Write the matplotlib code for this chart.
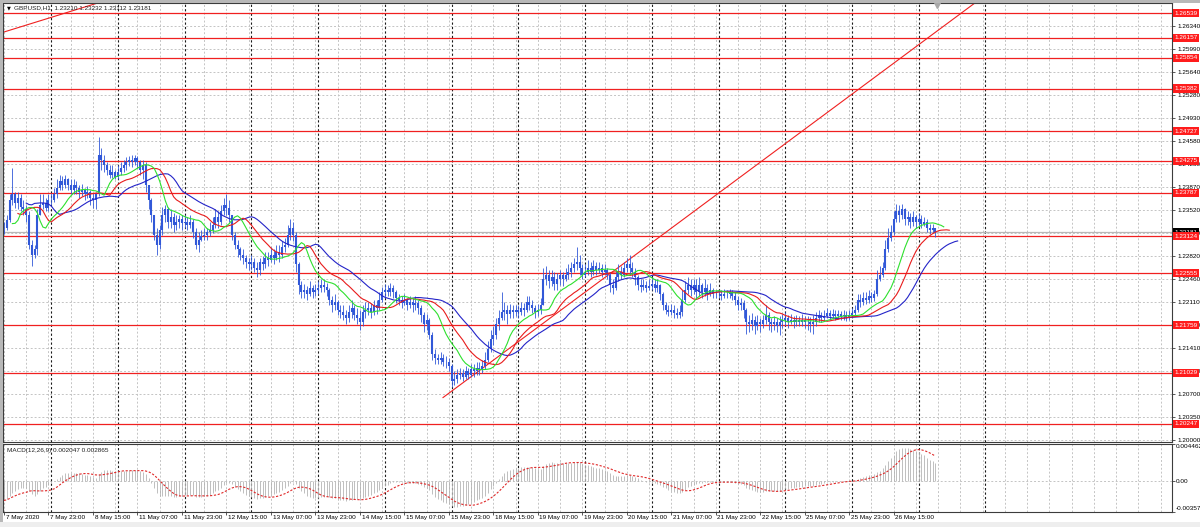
import numpy as np
import pandas as pd
import matplotlib
matplotlib.use('Agg')
import matplotlib.pyplot as plt
import matplotlib.transforms as mtransforms
from matplotlib.patches import Rectangle

plt.rcParams['font.family'] = ['Liberation Sans', 'DejaVu Sans']

# Header texts
symbol = 'GBPUSD,H1'
ohlc_text = '1.23210 1.23232 1.23112 1.23181'
macd_text = 'MACD(12,26,9) 0.002047 0.002865'

# H1 bars from 7 May 07:00 to 27 May 06:00, weekdays only
times = pd.date_range('2020-05-07 07:00', '2020-05-27 06:00', freq='h')
times = times[times.dayofweek < 5]

close = [
    # 7 May
    1.2325, 1.2337, 1.2368, 1.2376, 1.2363, 1.2371, 1.2357, 1.2353, 1.2345, 1.2299, 1.2284, 1.2292, 1.2345, 1.2360, 1.2363, 1.2356, 1.2368,
    # 8 May
    1.2368, 1.2376, 1.2386, 1.2396, 1.2391, 1.2399, 1.2391, 1.2383, 1.2391, 1.2386, 1.2380, 1.2383, 1.2376, 1.2380, 1.2371, 1.2368, 1.2376, 1.2437, 1.2429, 1.2421, 1.2414, 1.2406, 1.2411, 1.2403,
    # 11 May
    1.2411, 1.2417, 1.2421, 1.2426, 1.2429, 1.2426, 1.2432, 1.2425, 1.2414, 1.2421, 1.2391, 1.2368, 1.2345, 1.2314, 1.2299, 1.2322, 1.2345, 1.2353, 1.2334, 1.2341, 1.2330, 1.2334, 1.2338, 1.2333,
    # 12 May
    1.2334, 1.2330, 1.2334, 1.2319, 1.2299, 1.2307, 1.2313, 1.2314, 1.2319, 1.2322, 1.2330, 1.2341, 1.2334, 1.2350, 1.2360, 1.2356, 1.2345, 1.2314, 1.2299, 1.2292, 1.2284, 1.2279, 1.2273, 1.2269,
    # 13 May
    1.2273, 1.2264, 1.2261, 1.2273, 1.2269, 1.2279, 1.2276, 1.2284, 1.2279, 1.2288, 1.2284, 1.2295, 1.2299, 1.2314, 1.2325, 1.2314, 1.2269, 1.2238, 1.2227, 1.2230, 1.2224, 1.2233, 1.2227, 1.2230,
    # 14 May
    1.2233, 1.2238, 1.2235, 1.2230, 1.2215, 1.2207, 1.2212, 1.2199, 1.2196, 1.2192, 1.2187, 1.2196, 1.2202, 1.2192, 1.2187, 1.2181, 1.2196, 1.2199, 1.2202, 1.2196, 1.2206, 1.2202, 1.2215, 1.2227,
    # 15 May
    1.2230, 1.2227, 1.2233, 1.2227, 1.2218, 1.2215, 1.2210, 1.2215, 1.2207, 1.2212, 1.2206, 1.2210, 1.2202, 1.2192, 1.2177, 1.2184, 1.2161, 1.2131, 1.2126, 1.2123, 1.2126, 1.2120, 1.2119, 1.2114,
    # 18 May
    1.2090, 1.2093, 1.2099, 1.2102, 1.2097, 1.2105, 1.2100, 1.2108, 1.2105, 1.2111, 1.2108, 1.2114, 1.2123, 1.2139, 1.2154, 1.2161, 1.2177, 1.2187, 1.2196, 1.2199, 1.2193, 1.2199, 1.2196, 1.2199,
    # 19 May
    1.2196, 1.2202, 1.2199, 1.2212, 1.2207, 1.2202, 1.2196, 1.2199, 1.2207, 1.2246, 1.2253, 1.2243, 1.2249, 1.2239, 1.2246, 1.2252, 1.2246, 1.2253, 1.2258, 1.2264, 1.2269, 1.2273, 1.2264, 1.2253,
    # 20 May
    1.2258, 1.2264, 1.2258, 1.2267, 1.2261, 1.2264, 1.2258, 1.2261, 1.2253, 1.2238, 1.2233, 1.2249, 1.2258, 1.2253, 1.2264, 1.2269, 1.2264, 1.2258, 1.2249, 1.2238, 1.2235, 1.2238, 1.2233, 1.2236,
    # 21 May
    1.2239, 1.2233, 1.2238, 1.2223, 1.2207, 1.2199, 1.2196, 1.2199, 1.2195, 1.2192, 1.2196, 1.2215, 1.2230, 1.2238, 1.2230, 1.2238, 1.2227, 1.2238, 1.2227, 1.2233, 1.2224, 1.2230, 1.2224, 1.2223,
    # 22 May
    1.2224, 1.2221, 1.2224, 1.2223, 1.2226, 1.2221, 1.2215, 1.2207, 1.2210, 1.2199, 1.2181, 1.2177, 1.2184, 1.2175, 1.2181, 1.2177, 1.2184, 1.2192, 1.2181, 1.2177, 1.2181, 1.2175, 1.2180, 1.2184,
    # 25 May
    1.2187, 1.2181, 1.2184, 1.2180, 1.2184, 1.2181, 1.2184, 1.2180, 1.2181, 1.2177, 1.2181, 1.2187, 1.2192, 1.2187, 1.2190, 1.2195, 1.2190, 1.2193, 1.2190, 1.2193, 1.2190, 1.2192, 1.2189, 1.2192,
    # 26 May
    1.2195, 1.2199, 1.2215, 1.2212, 1.2218, 1.2215, 1.2220, 1.2218, 1.2223, 1.2246, 1.2253, 1.2264, 1.2292, 1.2310, 1.2319, 1.2338, 1.2350, 1.2345, 1.2353, 1.2338, 1.2341, 1.2334, 1.2341, 1.2334,
    # 27 May
    1.2338, 1.2331, 1.2334, 1.2325, 1.2322, 1.2325, 1.2318,
]

high = [
    1.2334, 1.2345, 1.2376, 1.2417, 1.2380, 1.2380, 1.2376, 1.2368, 1.2360, 1.2350, 1.2307, 1.2299, 1.2353, 1.2376, 1.2376, 1.2371, 1.2376,
    1.2379, 1.2386, 1.2399, 1.2406, 1.2405, 1.2406, 1.2402, 1.2399, 1.2399, 1.2396, 1.2391, 1.2392, 1.2386, 1.2389, 1.2383, 1.2379, 1.2380, 1.2464, 1.2447, 1.2437, 1.2426, 1.2421, 1.2421, 1.2414,
    1.2421, 1.2426, 1.2429, 1.2434, 1.2435, 1.2437, 1.2437, 1.2435, 1.2429, 1.2429, 1.2425, 1.2391, 1.2371, 1.2345, 1.2325, 1.2330, 1.2357, 1.2360, 1.2357, 1.2353, 1.2348, 1.2345, 1.2345, 1.2344,
    1.2345, 1.2341, 1.2344, 1.2338, 1.2325, 1.2319, 1.2322, 1.2325, 1.2325, 1.2334, 1.2341, 1.2353, 1.2350, 1.2360, 1.2371, 1.2376, 1.2368, 1.2345, 1.2319, 1.2307, 1.2295, 1.2292, 1.2284, 1.2279,
    1.2284, 1.2279, 1.2273, 1.2279, 1.2282, 1.2288, 1.2288, 1.2295, 1.2292, 1.2298, 1.2299, 1.2304, 1.2310, 1.2330, 1.2339, 1.2334, 1.2319, 1.2273, 1.2243, 1.2239, 1.2236, 1.2243, 1.2238, 1.2239,
    1.2243, 1.2246, 1.2246, 1.2241, 1.2233, 1.2221, 1.2223, 1.2215, 1.2207, 1.2206, 1.2199, 1.2207, 1.2215, 1.2207, 1.2202, 1.2199, 1.2207, 1.2212, 1.2212, 1.2210, 1.2215, 1.2215, 1.2227, 1.2235,
    1.2239, 1.2238, 1.2241, 1.2238, 1.2230, 1.2224, 1.2221, 1.2223, 1.2218, 1.2221, 1.2217, 1.2220, 1.2215, 1.2207, 1.2196, 1.2193, 1.2187, 1.2166, 1.2139, 1.2132, 1.2134, 1.2131, 1.2128, 1.2126,
    1.2116, 1.2105, 1.2108, 1.2111, 1.2108, 1.2114, 1.2111, 1.2117, 1.2117, 1.2120, 1.2120, 1.2123, 1.2135, 1.2151, 1.2169, 1.2175, 1.2187, 1.2199, 1.2226, 1.2212, 1.2207, 1.2209, 1.2206, 1.2207,
    1.2207, 1.2212, 1.2210, 1.2221, 1.2220, 1.2215, 1.2207, 1.2209, 1.2218, 1.2264, 1.2267, 1.2261, 1.2261, 1.2258, 1.2256, 1.2261, 1.2258, 1.2264, 1.2269, 1.2273, 1.2279, 1.2295, 1.2284, 1.2269,
    1.2269, 1.2276, 1.2273, 1.2276, 1.2273, 1.2273, 1.2269, 1.2270, 1.2264, 1.2258, 1.2246, 1.2261, 1.2269, 1.2267, 1.2273, 1.2279, 1.2284, 1.2273, 1.2264, 1.2253, 1.2246, 1.2246, 1.2243, 1.2246,
    1.2249, 1.2246, 1.2246, 1.2239, 1.2227, 1.2212, 1.2207, 1.2209, 1.2206, 1.2202, 1.2206, 1.2230, 1.2243, 1.2249, 1.2246, 1.2247, 1.2246, 1.2249, 1.2241, 1.2246, 1.2239, 1.2241, 1.2233, 1.2230,
    1.2230, 1.2230, 1.2232, 1.2230, 1.2232, 1.2229, 1.2227, 1.2221, 1.2218, 1.2215, 1.2202, 1.2192, 1.2195, 1.2190, 1.2192, 1.2187, 1.2192, 1.2207, 1.2196, 1.2187, 1.2190, 1.2187, 1.2190, 1.2193,
    1.2196, 1.2192, 1.2193, 1.2190, 1.2192, 1.2190, 1.2193, 1.2190, 1.2190, 1.2189, 1.2192, 1.2196, 1.2199, 1.2196, 1.2199, 1.2202, 1.2199, 1.2201, 1.2199, 1.2199, 1.2198, 1.2199, 1.2198, 1.2199,
    1.2202, 1.2207, 1.2223, 1.2223, 1.2227, 1.2226, 1.2229, 1.2227, 1.2230, 1.2261, 1.2267, 1.2273, 1.2307, 1.2325, 1.2330, 1.2350, 1.2362, 1.2360, 1.2362, 1.2356, 1.2350, 1.2347, 1.2350, 1.2345,
    1.2347, 1.2344, 1.2341, 1.2338, 1.2331, 1.2331, 1.2323,
]

low = [
    1.2316, 1.2322, 1.2334, 1.2360, 1.2356, 1.2353, 1.2350, 1.2345, 1.2334, 1.2292, 1.2266, 1.2279, 1.2284, 1.2345, 1.2353, 1.2350, 1.2350,
    1.2360, 1.2365, 1.2371, 1.2383, 1.2383, 1.2386, 1.2383, 1.2376, 1.2376, 1.2376, 1.2371, 1.2374, 1.2368, 1.2371, 1.2360, 1.2356, 1.2353, 1.2373, 1.2414, 1.2411, 1.2406, 1.2402, 1.2402, 1.2399,
    1.2399, 1.2406, 1.2411, 1.2414, 1.2420, 1.2418, 1.2421, 1.2417, 1.2406, 1.2399, 1.2380, 1.2353, 1.2334, 1.2307, 1.2284, 1.2292, 1.2314, 1.2334, 1.2325, 1.2325, 1.2319, 1.2322, 1.2325, 1.2322,
    1.2325, 1.2322, 1.2325, 1.2310, 1.2292, 1.2288, 1.2304, 1.2307, 1.2307, 1.2313, 1.2317, 1.2325, 1.2325, 1.2330, 1.2345, 1.2345, 1.2334, 1.2307, 1.2292, 1.2281, 1.2276, 1.2269, 1.2264, 1.2261,
    1.2261, 1.2258, 1.2250, 1.2253, 1.2261, 1.2264, 1.2267, 1.2272, 1.2270, 1.2276, 1.2273, 1.2279, 1.2288, 1.2295, 1.2307, 1.2304, 1.2258, 1.2223, 1.2218, 1.2218, 1.2215, 1.2220, 1.2218, 1.2221,
    1.2223, 1.2227, 1.2226, 1.2221, 1.2206, 1.2196, 1.2199, 1.2192, 1.2187, 1.2184, 1.2178, 1.2181, 1.2187, 1.2184, 1.2177, 1.2169, 1.2175, 1.2187, 1.2192, 1.2187, 1.2192, 1.2193, 1.2199, 1.2212,
    1.2218, 1.2220, 1.2221, 1.2218, 1.2210, 1.2207, 1.2202, 1.2206, 1.2199, 1.2202, 1.2196, 1.2199, 1.2193, 1.2181, 1.2166, 1.2169, 1.2154, 1.2123, 1.2117, 1.2116, 1.2117, 1.2114, 1.2111, 1.2105,
    1.2081, 1.2084, 1.2087, 1.2093, 1.2090, 1.2094, 1.2093, 1.2096, 1.2096, 1.2099, 1.2100, 1.2103, 1.2108, 1.2120, 1.2135, 1.2146, 1.2154, 1.2169, 1.2184, 1.2184, 1.2177, 1.2187, 1.2187, 1.2190,
    1.2187, 1.2192, 1.2190, 1.2196, 1.2199, 1.2195, 1.2187, 1.2190, 1.2193, 1.2206, 1.2238, 1.2233, 1.2236, 1.2230, 1.2230, 1.2238, 1.2236, 1.2243, 1.2246, 1.2249, 1.2258, 1.2261, 1.2253, 1.2246,
    1.2249, 1.2253, 1.2249, 1.2253, 1.2252, 1.2255, 1.2250, 1.2252, 1.2246, 1.2227, 1.2224, 1.2230, 1.2243, 1.2246, 1.2249, 1.2258, 1.2253, 1.2249, 1.2238, 1.2230, 1.2227, 1.2230, 1.2227, 1.2230,
    1.2230, 1.2227, 1.2227, 1.2215, 1.2199, 1.2193, 1.2190, 1.2192, 1.2187, 1.2187, 1.2187, 1.2190, 1.2212, 1.2223, 1.2221, 1.2223, 1.2218, 1.2221, 1.2218, 1.2221, 1.2215, 1.2221, 1.2218, 1.2217,
    1.2218, 1.2215, 1.2218, 1.2217, 1.2218, 1.2215, 1.2207, 1.2199, 1.2199, 1.2187, 1.2163, 1.2166, 1.2169, 1.2163, 1.2169, 1.2166, 1.2172, 1.2177, 1.2169, 1.2165, 1.2169, 1.2165, 1.2161, 1.2172,
    1.2175, 1.2172, 1.2177, 1.2172, 1.2175, 1.2174, 1.2175, 1.2172, 1.2169, 1.2166, 1.2163, 1.2175, 1.2181, 1.2181, 1.2183, 1.2187, 1.2184, 1.2186, 1.2184, 1.2186, 1.2184, 1.2184, 1.2183, 1.2184,
    1.2187, 1.2190, 1.2196, 1.2204, 1.2207, 1.2209, 1.2210, 1.2212, 1.2213, 1.2220, 1.2243, 1.2249, 1.2261, 1.2288, 1.2304, 1.2314, 1.2334, 1.2334, 1.2338, 1.2330, 1.2330, 1.2325, 1.2328, 1.2325,
    1.2328, 1.2325, 1.2327, 1.2319, 1.2316, 1.2317, 1.2311,
]

# Horizontal levels drawn on the chart
levels = [1.26539, 1.26157, 1.25854, 1.25382, 1.24727, 1.24275, 1.23787,
          1.23124, 1.22555, 1.21759, 1.21029, 1.20247]
bid = 1.23181

# Trend lines: (bar index, price) anchor pairs
trend_top = [(-1.4, 1.2623), (33.5, 1.2669)]
trend_up = [(157.9, 1.2065), (234.2, 1.2306)]

price_ticks = [1.26340, 1.25990, 1.25640, 1.25280, 1.24930, 1.24580, 1.24230,
               1.23870, 1.23520, 1.23170, 1.22820, 1.22460, 1.22110, 1.21760,
               1.21410, 1.21050, 1.20700, 1.20350, 1.20000]
macd_top, macd_bottom = 0.004462, -0.00357

# Indicator seeds (values before the first visible bar)
jaw_seed, teeth_seed, lips_seed = 1.2366, 1.2350, 1.2333
ema_fast_seed, ema_slow_seed = 1.2342, 1.2365


def smma(values, period, seed):
    out, s = [], seed
    for v in values:
        s = (s * (period - 1) + v) / period
        out.append(s)
    return np.array(out)


def ema(values, period, seed):
    out, e, k = [], seed, 2 / (period + 1)
    for v in values:
        e = e + k * (v - e)
        out.append(e)
    return np.array(out)


n = len(close)
idx = np.arange(n)
c = np.array(close)
h = np.array(high)
lo = np.array(low)
o = np.r_[c[0], c[:-1]]
median = (h + lo) / 2

jaw = smma(median, 13, jaw_seed)
teeth = smma(median, 8, teeth_seed)
lips = smma(median, 5, lips_seed)

macd = ema(c, 12, ema_fast_seed) - ema(c, 26, ema_slow_seed)
signal = pd.Series(macd).rolling(9, min_periods=1).mean().values

# Layout in pixels
W, H = 1200, 527


def box(x0, y0, x1, y1):
    return [x0 / W, 1 - y1 / H, (x1 - x0) / W, (y1 - y0) / H]


fig = plt.figure(figsize=(12, 5.27), dpi=100)
fig.patch.set_facecolor('white')
ax = fig.add_axes(box(3, 2.7, 1172, 441.5))
axm = fig.add_axes(box(3, 443.5, 1172, 511.5))

xmin, xmax = -0.36, 420.1
ax.set_xlim(xmin, xmax)
axm.set_xlim(xmin, xmax)
ax.set_ylim(1.19977, 1.26697)
axm.set_ylim(macd_bottom, macd_top)

fs = 4.6
grid_kw = dict(color='#c4c4c4', lw=0.7, ls=(0, (2, 2)), zorder=0)
sep_kw = dict(color='#1a1a1a', lw=0.8, ls=(0, (2, 2)), zorder=0.5)

# full timeline into the empty right part for separators
future = pd.date_range(times[-1] + pd.Timedelta(hours=1), periods=200, freq='h')
future = future[future.dayofweek < 5]
timeline = times.append(future)
seps = [i for i, t in enumerate(timeline) if t.hour == 0 and i <= 353]

for a in (ax, axm):
    for g in range(0, int(xmax) + 1, 8):
        if g not in seps:
            a.axvline(g, **grid_kw)
    for s in seps:
        a.axvline(s, **sep_kw)
    for sp in a.spines.values():
        sp.set_color('#3c3c3c')
        sp.set_linewidth(0.8)
for p in price_ticks:
    ax.axhline(p, **grid_kw)
axm.axhline(0, **grid_kw)

# levels and bid line
for lv in levels:
    ax.axhline(lv, color='#f02020', lw=0.9, zorder=1)
ax.axhline(bid, color='#b8b8b8', lw=0.9, zorder=1)

# trend lines, extended to the right edge
for (x1, y1), (x2, y2) in (trend_top, trend_up):
    slope = (y2 - y1) / (x2 - x1)
    ax.plot([x1, xmax], [y1, y1 + slope * (xmax - x1)], color='#f02020', lw=0.8, zorder=1.2)

# bars
bar_color = '#3158d8'
ax.vlines(idx, lo, h, color=bar_color, lw=0.6, zorder=2)
ax.vlines(idx, np.minimum(o, c), np.maximum(o, c), color=bar_color, lw=1.5, zorder=2)

# Alligator
ax.plot(idx + 8, jaw, color='#2424c8', lw=0.8, zorder=3)
ax.plot(idx + 5, teeth, color='#e81c1c', lw=0.8, zorder=3)
ax.plot(idx + 3, lips, color='#2ee02e', lw=0.8, zorder=3)

# MACD
axm.vlines(idx, 0, macd, color='#b4b4b4', lw=0.6, zorder=2)
axm.plot(idx, signal, color='#e02828', lw=0.8, ls=(0, (2, 1.5)), zorder=3)

# right price scale
ax.set_xticks([])
ax.yaxis.tick_right()
ax.set_yticks(price_ticks)
ax.set_yticklabels([f'{p:.5f}' for p in price_ticks])
ax.tick_params(axis='y', length=2.5, width=0.6, labelsize=fs, pad=1.5, color='#3c3c3c')

ytr = mtransforms.blended_transform_factory(ax.transAxes, ax.transData)
ax.text(1.0022, bid, f'{bid:.5f}', transform=ytr, ha='left', va='center', fontsize=fs,
        color='white', clip_on=False, zorder=9,
        bbox=dict(boxstyle='square,pad=0.25', fc='black', ec='none'))
for lv in levels:
    ax.text(1.0022, lv, f'{lv:.5f}', transform=ytr, ha='left', va='center', fontsize=fs,
            color='white', clip_on=False, zorder=10,
            bbox=dict(boxstyle='square,pad=0.25', fc='#ff1c1c', ec='none'))

# chart shift marker at the top
ax.plot([0.799], [0.994], transform=ax.transAxes, marker='v', ms=4, color='#a8a8a8',
        clip_on=False, zorder=5)

# MACD scale
axm.yaxis.tick_right()
axm.set_yticks([macd_top, 0, macd_bottom])
axm.set_yticklabels([])
axm.tick_params(axis='y', length=2.5, width=0.6, color='#3c3c3c')
mtr = mtransforms.blended_transform_factory(axm.transAxes, axm.transData)
axm.text(1.0034, macd_top, f'{macd_top:.6f}', transform=mtr, ha='left', va='top', fontsize=fs, clip_on=False)
axm.text(1.0034, 0, '0.00', transform=mtr, ha='left', va='center', fontsize=fs, clip_on=False)
axm.text(1.0034, macd_bottom, f'{macd_bottom:.5f}', transform=mtr, ha='left', va='bottom', fontsize=fs, clip_on=False)

# time scale
label_bars = list(range(0, n, 16))
axm.set_xticks(label_bars)
axm.set_xticklabels([])
axm.tick_params(axis='x', length=2.5, width=0.6, color='#3c3c3c')
xtr = mtransforms.blended_transform_factory(axm.transData, axm.transAxes)
for k in label_bars:
    t = times[k]
    txt = f'{t.day} {t:%b} {t.year}' if k == 0 else f'{t.day} {t:%b %H:%M}'
    axm.text(k + 0.6, -0.095, txt, transform=xtr, ha='left', va='center', fontsize=fs, clip_on=False)

# headers
ax.text(0.0033, 0.988, '\u25bc', transform=ax.transAxes, ha='left', va='center', fontsize=3.6,
        family=['DejaVu Sans'])
ax.text(0.0095, 0.988, f'{symbol}  {ohlc_text}', transform=ax.transAxes, ha='left', va='center',
        fontsize=fs, color='#202020')
axm.text(0.0035, 0.9, macd_text, transform=axm.transAxes, ha='left', va='center', fontsize=fs,
         color='#202020')

# window frame
fig.patches.append(Rectangle((0, 0), 2.5 / W, 1, transform=fig.transFigure, fc='#b8b8b8', ec='none'))
fig.patches.append(Rectangle((0, 1 - 2.5 / H), 1, 2.5 / H, transform=fig.transFigure, fc='#b8b8b8', ec='none'))
fig.patches.append(Rectangle((0, 0), 1, 5 / H, transform=fig.transFigure, fc='#eeeeee', ec='none'))

fig.savefig('out.png', dpi=100)
